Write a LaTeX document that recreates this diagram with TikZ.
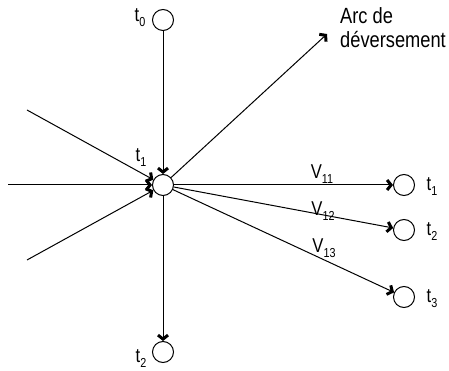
\documentclass[tikz,border=0pt]{standalone}
\usepackage{fontspec}
\setmainfont{Liberation Sans}[FakeStretch=0.83]
\usetikzlibrary{arrows.meta}
\newcommand{\sbx}[1]{\raisebox{-5pt}{\fontsize{13}{13}\selectfont #1}}
\begin{document}
\begin{tikzpicture}[x=1pt,y=-1pt,
  place/.style={circle,draw,line width=1pt,minimum size=21pt,inner sep=0pt},
  lbl/.style={font=\fontsize{20}{22}\selectfont,inner sep=0pt},
  arc/.style={line width=1pt,-{Straight Barb[length=4pt,width=10pt,line width=3pt]}}]
\useasboundingbox (0,0) rectangle (449,371);
\node[place] (c) at (163,185) {};
\node[place] (t0) at (163,20) {};
\node[place] (b2) at (163,352) {};
\node[place] (r1) at (404,185) {};
\node[place] (r2) at (404,230) {};
\node[place] (r3) at (404,297) {};
\coordinate (l1) at (27,110);
\coordinate (l2) at (8,185);
\coordinate (l3) at (27,260);
\coordinate (ov) at (327,34);
\draw[arc] (t0) -- (c);
\draw[arc] (l1) -- (c);
\draw[arc] (l2) -- (c);
\draw[arc] (l3) -- (c);
\draw[arc] (c) -- (b2);
\draw[arc] (c) -- (ov);
\draw[arc] (c) -- (r1);
\draw[arc] (c) -- (r2);
\draw[arc] (c) -- (r3);
\node[lbl] (lt0) at (140,18) {t\sbx{0}};
\node[lbl] (lt1) at (141,158) {t\sbx{1}};
\node[lbl] (lt2) at (141,359) {t\sbx{2}};
\node[lbl] (rt1) at (432,187) {t\sbx{1}};
\node[lbl] (rt2) at (432,232) {t\sbx{2}};
\node[lbl] (rt3) at (432,299) {t\sbx{3}};
\node[lbl] (v11) at (322,174) {V\sbx{11}};
\node[lbl] (v12) at (323,211) {V\sbx{12}};
\node[lbl] (v13) at (324,248) {V\sbx{13}};
\node[lbl,anchor=west,align=left,font=\fontsize{22}{24}\selectfont] (ad) at (340,28) {Arc de\\déversement};
\end{tikzpicture}
\end{document}
